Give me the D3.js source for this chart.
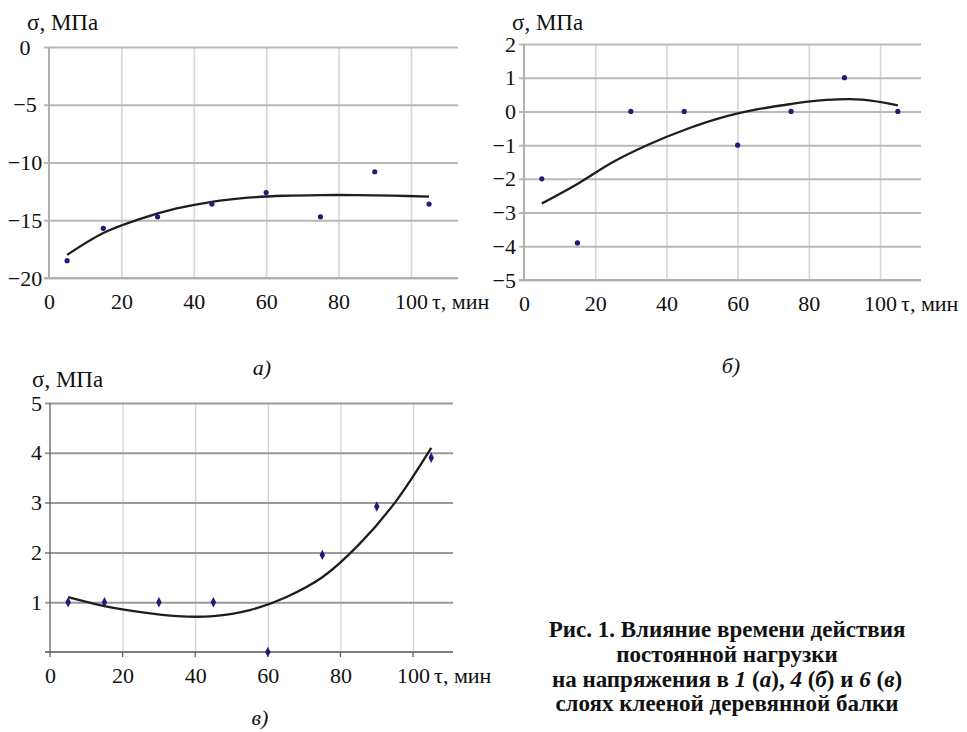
<!DOCTYPE html>
<html>
<head>
<meta charset="utf-8">
<script src="https://cdn.jsdelivr.net/npm/d3@7"></script>
</head>
<body style="margin:0; background:#fff">
<svg id="fig" width="967" height="732"></svg>
<script>
// measured points (τ, min) and stress σ, MPa
const tau = [5, 15, 30, 45, 60, 75, 90, 105];
const sigmaA = [-18.5, -15.7, -14.7, -13.6, -12.6, -14.7, -10.8, -13.6];
const sigmaB = [-2, -3.9, 0, 0, -1, 0, 1, 0];
const sigmaC = [1, 1, 1, 1, 0, 1.95, 2.92, 3.9];

// trend curves
const trendTau = [5, 15, 25, 35, 45, 55, 65, 75, 85, 95, 105];
const trendA = [-18.0, -16.1, -14.9, -14.0, -13.4, -13.05, -12.88, -12.82, -12.82, -12.87, -12.95];
const trendB = [-2.73, -2.15, -1.5, -0.98, -0.55, -0.2, 0.05, 0.22, 0.34, 0.35, 0.18];
const trendC = [1.1, 0.92, 0.8, 0.72, 0.72, 0.84, 1.1, 1.5, 2.15, 3.0, 4.1];

const xTicks = [0, 20, 40, 60, 80, 100];
const yTicksA = [-20, -15, -10, -5, 0];
const yTicksB = [-5, -4, -3, -2, -1, 0, 1, 2];
const yTicksC = [1, 2, 3, 4, 5];

const captionLines = [
    'Рис. 1. Влияние времени действия',
    'постоянной нагрузки',
    null,
    'слоях клееной деревянной балки'
];

const FONT = 'Liberation Serif';
const svg = d3.select('#fig');

const panels = [
    {
        id: 'a', left: 49, right: 458, top: 47, bottom: 278, xMax: 113,
        yDomain: [-20, 0], yTicks: yTicksA, values: sigmaA, trend: trendA,
        tickX: -24, tickAnchor: 'middle', labX: 27, labY: 30,
        letter: 'а)', letterX: 262, letterY: 375,
        hGrid: '#b9b9b9', vGrid: '#d6d6d6', axis: '#b0b0b0', diamond: false
    },
    {
        id: 'b', left: 524, right: 921, top: 44, bottom: 280, xMax: 111.5,
        yDomain: [-5, 2], yTicks: yTicksB, values: sigmaB, trend: trendB,
        tickX: -8, tickAnchor: 'end', labX: 512, labY: 30,
        letter: 'б)', letterX: 731, letterY: 373,
        hGrid: '#b9b9b9', vGrid: '#d6d6d6', axis: '#b0b0b0', diamond: false
    },
    {
        id: 'c', left: 50, right: 453, top: 403, bottom: 652, xMax: 111,
        yDomain: [0, 5], yTicks: yTicksC, values: sigmaC, trend: trendC,
        tickX: -8, tickAnchor: 'end', labX: 32, labY: 387,
        letter: 'в)', letterX: 260, letterY: 725,
        hGrid: '#9a9a9a', vGrid: '#cfcfcf', axis: '#555', diamond: true
    }
];

const drawPanel = (p) => {
    const g = svg.append('g').attr('class', `panel-${p.id}`);
    const w = p.right - p.left;
    const h = p.bottom - p.top;

    const x = d3.scaleLinear().domain([0, p.xMax]).range([p.left, p.right]);
    const y = d3.scaleLinear().domain(p.yDomain).range([p.bottom, p.top]);

    // vertical grid + tick labels
    const axisX = d3
        .axisBottom(x)
        .tickValues(xTicks)
        .tickSizeInner(-h)
        .tickSizeOuter(0)
        .tickFormat(d3.format('d'));

    const gx = g
        .append('g')
        .attr('class', 'axis axis-x')
        .attr('transform', `translate(0,${p.bottom})`)
        .call(axisX);

    gx.select('.domain').remove();
    gx.selectAll('.tick line')
        .attr('stroke', p.vGrid)
        .attr('stroke-width', p.diamond ? 1.2 : 1.6)
        .filter((d) => d === 0)
        .remove();
    gx.selectAll('.tick text')
        .attr('y', 31)
        .attr('dy', 0)
        .attr('fill', '#111')
        .style('font-size', '22px');

    // horizontal grid + tick labels
    const axisY = d3
        .axisLeft(y)
        .tickValues(p.yTicks)
        .tickSizeInner(-w)
        .tickSizeOuter(0)
        .tickFormat(d3.format('d'));

    const gy = g
        .append('g')
        .attr('class', 'axis axis-y')
        .attr('transform', `translate(${p.left},0)`)
        .call(axisY);

    gy.select('.domain').remove();
    gy.selectAll('.tick line')
        .attr('x1', -5)
        .attr('stroke', p.hGrid)
        .attr('stroke-width', 2);
    gy.selectAll('.tick text')
        .attr('x', p.tickX)
        .attr('text-anchor', p.tickAnchor)
        .attr('fill', '#111')
        .style('font-size', '22px');

    // axis lines
    g.append('line')
        .attr('x1', p.left).attr('x2', p.left)
        .attr('y1', p.top).attr('y2', p.bottom)
        .attr('stroke', p.axis)
        .attr('stroke-width', p.diamond ? 1.2 : 2);

    g.append('line')
        .attr('x1', p.left - 5).attr('x2', p.right)
        .attr('y1', p.bottom).attr('y2', p.bottom)
        .attr('stroke', p.axis)
        .attr('stroke-width', p.diamond ? 1.6 : 2);

    if (p.diamond) {
        g.selectAll('.xtick')
            .data(xTicks)
            .enter()
            .append('line')
            .attr('class', 'xtick')
            .attr('x1', (d) => x(d)).attr('x2', (d) => x(d))
            .attr('y1', p.bottom).attr('y2', p.bottom + 5)
            .attr('stroke', p.axis)
            .attr('stroke-width', 1.2);
    }

    // trend curve
    const line = d3
        .line()
        .curve(d3.curveCatmullRom)
        .x((d, i) => x(trendTau[i]))
        .y((d) => y(d));

    g.append('path')
        .datum(p.trend)
        .attr('fill', 'none')
        .attr('stroke', '#1e1e1e')
        .attr('stroke-width', 2.3)
        .attr('d', line);

    // measured points
    const pts = p.values.map((v, i) => ({ t: tau[i], v }));

    if (p.diamond) {
        g.selectAll('.pt')
            .data(pts)
            .enter()
            .append('path')
            .attr('class', 'pt')
            .attr('d', d3.symbol().type(d3.symbolDiamond).size(26))
            .attr('transform', (d) => `translate(${x(d.t)},${y(d.v)}) scale(1,1.1)`)
            .attr('fill', '#1d1d7a');
    } else {
        g.selectAll('.pt')
            .data(pts)
            .enter()
            .append('circle')
            .attr('class', 'pt')
            .attr('cx', (d) => x(d.t))
            .attr('cy', (d) => y(d.v))
            .attr('r', 2.6)
            .attr('fill', '#1d1d7a');
    }

    // labels
    g.append('text')
        .attr('x', p.labX)
        .attr('y', p.labY)
        .style('font-size', '23px')
        .text('σ, МПа');

    g.append('text')
        .attr('x', x(100) + 21)
        .attr('y', p.bottom + 31)
        .style('font-size', '22px')
        .text('τ, мин');

    g.append('text')
        .attr('x', p.letterX)
        .attr('y', p.letterY)
        .attr('text-anchor', 'middle')
        .style('font-size', '22px')
        .style('font-style', 'italic')
        .text(p.letter);
};

panels.forEach(drawPanel);

// caption
const cap = svg
    .append('text')
    .attr('text-anchor', 'middle')
    .style('font-size', '23px')
    .style('font-weight', 'bold');

const capX = 727;
const capY = [637, 662, 687, 711];

captionLines.forEach((txt, i) => {
    if (txt !== null) {
        cap.append('tspan').attr('x', capX).attr('y', capY[i]).text(txt);
    }
});

// third line with italic bits
const third = [
    ['на напряжения в ', false],
    ['1', true], [' (', false], ['а', true], ['), ', false],
    ['4', true], [' (', false], ['б', true], [') и ', false],
    ['6', true], [' (', false], ['в', true], [')', false]
];

third.forEach(([s, it], i) => {
    const ts = cap.append('tspan').text(s).style('font-style', it ? 'italic' : 'normal');
    if (i === 0) ts.attr('x', capX).attr('y', capY[2]);
});

// one serif face for every label
svg.selectAll('.axis').attr('font-family', null).attr('font-size', null);
svg.selectAll('text').style('font-family', FONT).attr('fill', '#111');
</script>
</body>
</html>
